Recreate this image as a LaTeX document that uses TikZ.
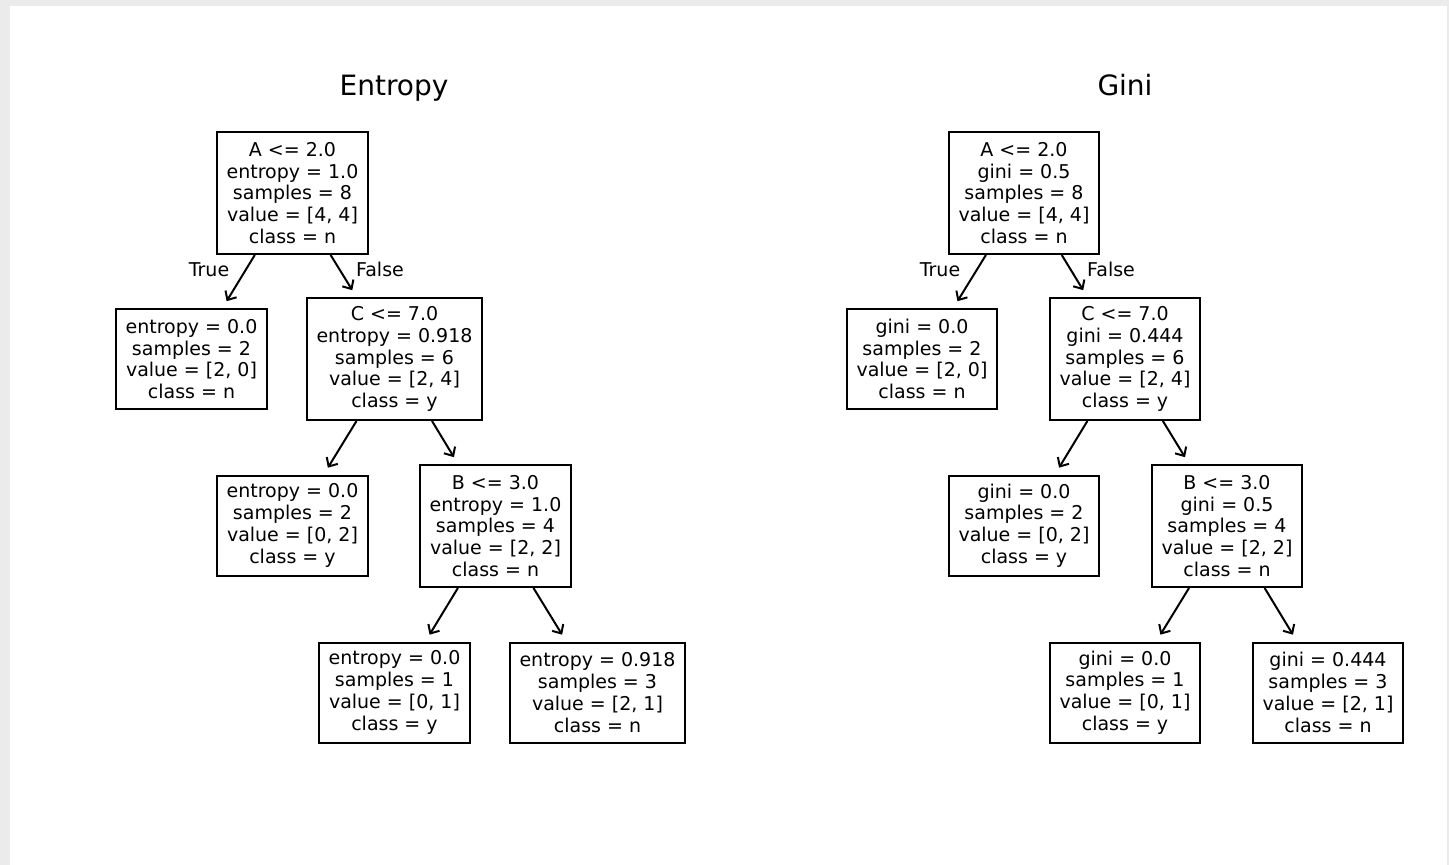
\documentclass[tikz,border=0pt]{standalone}
\usepackage{fontspec}
\setmainfont{DejaVu Sans}
\usetikzlibrary{arrows.meta}
\definecolor{framegray}{HTML}{EBEBEB}
\begin{document}
\begin{tikzpicture}[x=1pt,y=-1pt,
  treebox/.style={draw=black, line width=2pt, rectangle, inner sep=0pt,
    align=center, font=\fontsize{19}{21.75}\selectfont},
  leafbox/.style={treebox, minimum height=100pt},
  splitbox/.style={treebox, minimum height=122pt},
  edge/.style={line width=2pt, -{Straight Barb[length=7pt,width=13pt,line width=2pt]}, shorten >=8pt},
  elabel/.style={font=\fontsize{19}{22}\selectfont, inner sep=0pt, anchor=base},
  ttl/.style={font=\fontsize{28}{32}\selectfont, inner sep=0pt, anchor=base}]
\useasboundingbox (0,0) rectangle (1449,865);
\fill[framegray] (0,0) rectangle (1449,865);
\fill[white] (10,6) rectangle (1447,865);

% Entropy tree
\node[ttl] (t1) at (394,95.5) {Entropy};
\node[splitbox, minimum width=151pt] (e0) at (292.5,193) {A <= 2.0\\entropy = 1.0\\samples = 8\\value = [4, 4]\\class = n};
\node[leafbox, minimum width=151pt] (e1) at (191.5,359) {entropy = 0.0\\samples = 2\\value = [2, 0]\\class = n};
\node[splitbox, minimum width=175pt] (e2) at (394.5,359) {C <= 7.0\\entropy = 0.918\\samples = 6\\value = [2, 4]\\class = y};
\node[leafbox, minimum width=151pt] (e3) at (292.5,525.5) {entropy = 0.0\\samples = 2\\value = [0, 2]\\class = y};
\node[splitbox, minimum width=151pt] (e4) at (495.5,526) {B <= 3.0\\entropy = 1.0\\samples = 4\\value = [2, 2]\\class = n};
\node[leafbox, minimum width=151pt] (e5) at (394.5,692.5) {entropy = 0.0\\samples = 1\\value = [0, 1]\\class = y};
\node[leafbox, minimum width=175pt] (e6) at (597.5,692.5) {entropy = 0.918\\samples = 3\\value = [2, 1]\\class = n};
\draw[edge] (e0) -- (e1);
\draw[edge] (e0) -- (e2);
\draw[edge] (e2) -- (e3);
\draw[edge] (e2) -- (e4);
\draw[edge] (e4) -- (e5);
\draw[edge] (e4) -- (e6);
\node[elabel] (etrue) at (209,276) {True};
\node[elabel] (efalse) at (380,276) {False};

% Gini tree
\node[ttl] (t2) at (1125,95.5) {Gini};
\node[splitbox, minimum width=150pt] (g0) at (1024,193) {A <= 2.0\\gini = 0.5\\samples = 8\\value = [4, 4]\\class = n};
\node[leafbox, minimum width=150pt] (g1) at (922,359) {gini = 0.0\\samples = 2\\value = [2, 0]\\class = n};
\node[splitbox, minimum width=150pt] (g2) at (1125,359) {C <= 7.0\\gini = 0.444\\samples = 6\\value = [2, 4]\\class = y};
\node[leafbox, minimum width=150pt] (g3) at (1024,525.5) {gini = 0.0\\samples = 2\\value = [0, 2]\\class = y};
\node[splitbox, minimum width=150pt] (g4) at (1227,526) {B <= 3.0\\gini = 0.5\\samples = 4\\value = [2, 2]\\class = n};
\node[leafbox, minimum width=150pt] (g5) at (1125,692.5) {gini = 0.0\\samples = 1\\value = [0, 1]\\class = y};
\node[leafbox, minimum width=150pt] (g6) at (1328,692.5) {gini = 0.444\\samples = 3\\value = [2, 1]\\class = n};
\draw[edge] (g0) -- (g1);
\draw[edge] (g0) -- (g2);
\draw[edge] (g2) -- (g3);
\draw[edge] (g2) -- (g4);
\draw[edge] (g4) -- (g5);
\draw[edge] (g4) -- (g6);
\node[elabel] (gtrue) at (940,276) {True};
\node[elabel] (gfalse) at (1111,276) {False};
\end{tikzpicture}
\end{document}
